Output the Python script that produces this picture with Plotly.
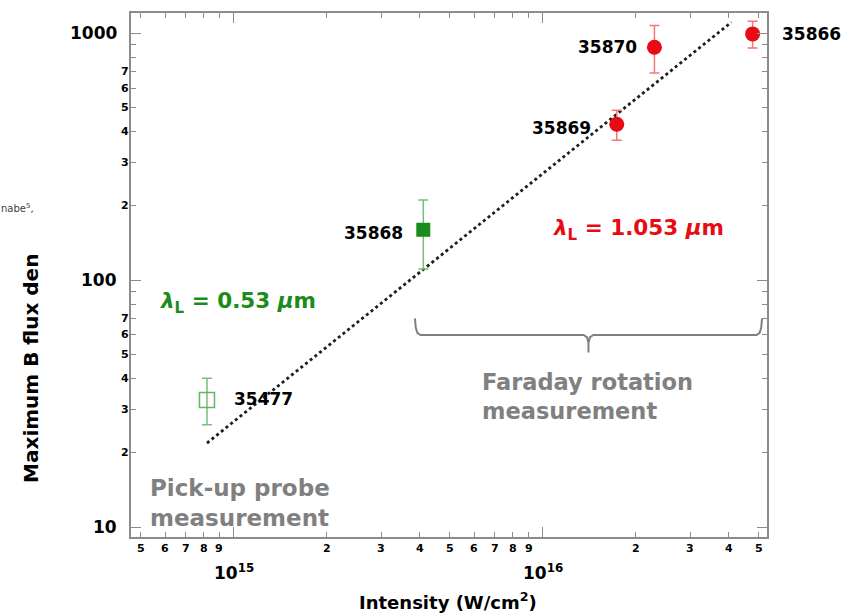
import numpy as np
import plotly.graph_objects as go

# ---------------- data ----------------
red_shots = ["35866", "35870", "35869"]
red_I = [4.78e16, 2.30e16, 1.737e16]
red_B = [994, 878, 428]
red_err_plus = [124, 196, 60]
red_err_minus = [122, 188, 59]

green_shot = ["35868"]
green_I = [4.11e15]
green_B = [160]
green_err_plus = [51]
green_err_minus = [49]

probe_shot = ["35477"]
probe_I = [8.2e14]
probe_B = [32.7]
probe_err_plus = [7.4]
probe_err_minus = [6.7]

fit_I = [8.2e14, 4.08e16]
fit_B = [21.9, 1108]

# bracket (Faraday rotation range)
bracket_I = [3.86e15, 5.13e16]
bracket_level = 60
bracket_arm = 70
bracket_tip = 51

y_major = [10, 100, 1000]
y_major_text = ["10", "100", "1000"]
y_minor_labels = [2, 3, 4, 5, 6, 7]
x_major = [1e15, 1e16]
x_major_text = ["10<sup>15</sup>", "10<sup>16</sup>"]
x_minor_lab_14 = [5, 6, 7, 8, 9]
x_minor_lab_15 = [2, 3, 4, 5, 6, 7, 8, 9]
x_minor_lab_16 = [2, 3, 4, 5]

FONT = "DejaVu Sans"
RED = "rgb(232,10,20)"
RED_ERR = "rgb(240,120,120)"
GREEN = "rgb(25,140,25)"
GREEN_ERR = "rgb(120,190,120)"
GRAY = "rgb(128,128,128)"
AX = "rgb(140,140,140)"

fig = go.Figure()

# fit line
fig.add_trace(go.Scatter(x=fit_I, y=fit_B, mode="lines",
                         line=dict(color="rgb(30,30,30)", width=2.8, dash="dot"),
                         showlegend=False, hoverinfo="skip"))

# bracket built from range values
L, R = bracket_I
C = np.sqrt(L * R)
bx = [L, L * 10**0.003, L * 10**0.008, L * 10**0.018,
      C * 10**-0.016, C * 10**-0.005, C, C, C, C * 10**0.005, C * 10**0.016,
      R * 10**-0.018, R * 10**-0.008, R * 10**-0.003, R]
lv, arm, tip = bracket_level, bracket_arm, bracket_tip
by = [arm, lv * 1.07, lv * 1.02, lv,
      lv, lv * 0.98, lv * 0.93, tip, lv * 0.93, lv * 0.98, lv,
      lv, lv * 1.02, lv * 1.07, arm]
fig.add_trace(go.Scatter(x=bx, y=by, mode="lines",
                         line=dict(color=GRAY, width=2),
                         showlegend=False, hoverinfo="skip"))

# red points
fig.add_trace(go.Scatter(x=red_I, y=red_B, mode="markers",
                         marker=dict(symbol="circle", size=15, color=RED),
                         error_y=dict(type="data", array=red_err_plus, arrayminus=red_err_minus,
                                      color=RED_ERR, thickness=1.5, width=5),
                         showlegend=False))
# green filled
fig.add_trace(go.Scatter(x=green_I, y=green_B, mode="markers",
                         marker=dict(symbol="square", size=14, color=GREEN),
                         error_y=dict(type="data", array=green_err_plus, arrayminus=green_err_minus,
                                      color=GREEN_ERR, thickness=1.5, width=5),
                         showlegend=False))
# green open
fig.add_trace(go.Scatter(x=probe_I, y=probe_B, mode="markers",
                         marker=dict(symbol="square-open", size=15, color="rgb(100,180,100)",
                                     line=dict(width=1.5)),
                         error_y=dict(type="data", array=probe_err_plus, arrayminus=probe_err_minus,
                                      color=GREEN_ERR, thickness=1.5, width=5),
                         showlegend=False))

ann = []
def txt(text, x, y, size, color="black", xref="paper", yref="paper", xanchor="center",
        yanchor="middle", xshift=0, yshift=0, bold=True, align="center", textangle=0):
    ann.append(dict(text=text, x=x, y=y, xref=xref, yref=yref, xanchor=xanchor,
                    yanchor=yanchor, xshift=xshift, yshift=yshift, showarrow=False,
                    align=align, textangle=textangle,
                    font=dict(family=FONT, size=size, color=color,
                              weight="bold" if bold else "normal")))

# point labels
lab_off = {"35866": ("left", 27, 0), "35870": ("right", -15, 0), "35869": ("right", -24, -4)}
for s, xi, yi in zip(red_shots, red_I, red_B):
    a, dx, dy = lab_off[s]
    txt(s, np.log10(xi), np.log10(yi), 17, xref="x", yref="y", xanchor=a, xshift=dx, yshift=dy)
for s, xi, yi in zip(green_shot, green_I, green_B):
    txt(s, np.log10(xi), np.log10(yi), 17, xref="x", yref="y", xanchor="right", xshift=-18, yshift=-3)
for s, xi, yi in zip(probe_shot, probe_I, probe_B):
    txt(s, np.log10(xi), np.log10(yi), 17, xref="x", yref="y", xanchor="left", xshift=25, yshift=1)

# y tick labels
for v, t in zip(y_major, y_major_text):
    txt(t, 0, np.log10(v), 17, yref="y", xanchor="right", xshift=-12)
for dec in [10, 100]:
    for m in y_minor_labels:
        txt(str(m), 0, np.log10(m * dec), 11, yref="y", xanchor="right", xshift=0)

# x tick labels
for v, t in zip(x_major, x_major_text):
    txt(t, np.log10(v), 0, 17, xref="x", yanchor="middle", yshift=-35)
for dec, lst in [(1e14, x_minor_lab_14), (1e15, x_minor_lab_15), (1e16, x_minor_lab_16)]:
    for m in lst:
        txt(str(m), np.log10(m * dec), 0, 11, xref="x", yanchor="middle", yshift=-11)

# titles
txt("Intensity (W/cm<sup>2</sup>)", 0.498, 0, 18, yanchor="middle", yshift=-64)
txt("Maximum B flux den", -0.157, 0.0988, 20, xanchor="center", yanchor="bottom", textangle=-90)
txt("nabe<sup>5</sup>,", -0.207, 0.628, 10, xanchor="left", bold=False, color="rgb(60,60,60)")

# wavelength labels
txt("<i>λ</i><sub>L</sub> = 0.53 <i>μ</i>m", 0.043, 0.447, 21.5, color=GREEN, xanchor="left")
txt("<i>λ</i><sub>L</sub> = 1.053 <i>μ</i>m", 0.661, 0.587, 21.5, color=RED, xanchor="left")

# measurement labels
txt("Faraday rotation<br>measurement", 0.549, 0.268, 22.5, color=GRAY, xanchor="left", align="left")
txt("Pick-up probe<br>measurement", 0.026, 0.0640, 23, color=GRAY, xanchor="left", align="left")

x_minor = [m * d for d in [1e14, 1e15] for m in range(2, 10)] + [m * 1e16 for m in range(2, 6)]
x_minor = [v for v in x_minor if v >= 4.7e14]
y_minor = [m * d for d in [10, 100] for m in range(2, 10)]

axis_common = dict(showline=True, linecolor=AX, linewidth=1.5, mirror="ticks",
                   ticks="inside", ticklen=10, tickwidth=1.2, tickcolor=AX,
                   showticklabels=False, showgrid=False, zeroline=False)

fig.update_layout(
    width=863, height=616, autosize=False,
    margin=dict(l=131, r=96, t=11, b=79),
    paper_bgcolor="white", plot_bgcolor="white",
    xaxis=dict(type="log", range=[14.668, 16.726], tickvals=x_major,
               minor=dict(tickvals=x_minor, ticks="inside", ticklen=5, tickwidth=1, tickcolor=AX,
                          showgrid=False),
               **axis_common),
    yaxis=dict(type="log", range=[0.96, 3.082], tickvals=y_major,
               minor=dict(tickvals=y_minor, ticks="inside", ticklen=5, tickwidth=1, tickcolor=AX,
                          showgrid=False),
               **axis_common),
    annotations=ann,
    showlegend=False,
)

fig.write_html("out.html")
